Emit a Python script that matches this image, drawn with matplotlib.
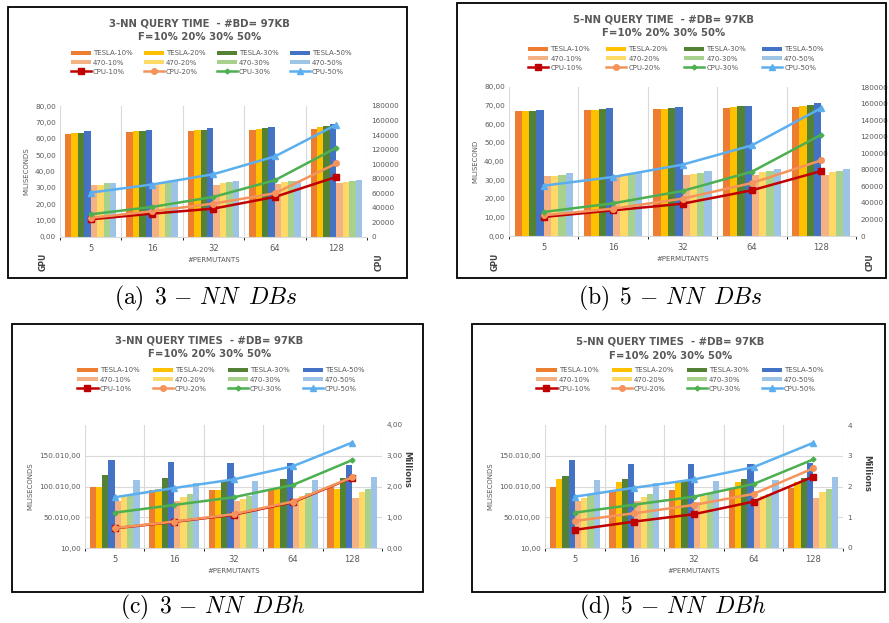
import numpy as np
import matplotlib
matplotlib.use("Agg")
import matplotlib.pyplot as plt
from matplotlib.patches import Rectangle
from matplotlib.ticker import FixedLocator, FuncFormatter

plt.rcParams['mathtext.fontset'] = 'cm'
plt.rcParams['font.family'] = 'DejaVu Sans'

OUTPUT_IMG = "out.png"
W, H = 889, 623

categories = ['5', '16', '32', '64', '128']
levels = ['10%', '20%', '30%', '50%']

# (a) 3-NN DBs  -- GPU ms (left) / CPU (right)
a_tesla = [[63.1, 64.3, 65.0, 65.5, 66.0],
           [63.7, 65.0, 65.5, 65.7, 67.0],
           [63.7, 65.0, 65.5, 66.3, 67.5],
           [64.9, 65.5, 66.5, 67.3, 68.8]]
a_470 = [[31.6, 31.8, 31.8, 32.5, 33.0],
         [32.0, 33.0, 33.0, 33.5, 33.8],
         [32.7, 33.5, 33.5, 34.0, 34.2],
         [33.0, 34.5, 34.0, 34.5, 35.0]]
a_cpu = [[24300, 32100, 39000, 55100, 82600],
         [26200, 35400, 45900, 60100, 101000],
         [31200, 41300, 55100, 78000, 122600],
         [61000, 72100, 86300, 110700, 154300]]

# (b) 5-NN DBs
b_tesla = [[67.0, 67.5, 68.0, 68.6, 69.5],
           [67.0, 67.5, 68.2, 69.3, 69.8],
           [67.0, 68.0, 68.7, 69.8, 70.3],
           [67.5, 68.7, 69.3, 69.8, 71.3]]
b_470 = [[32.2, 32.5, 32.8, 33.0, 33.0],
         [32.2, 33.5, 33.3, 34.3, 34.3],
         [32.5, 34.0, 34.0, 34.8, 34.8],
         [34.0, 34.5, 34.8, 35.8, 35.8]]
b_cpu = [[23000, 31000, 39000, 55200, 78500],
         [25000, 33000, 45100, 64000, 91400],
         [29000, 39500, 54400, 77700, 122400],
         [60800, 71300, 86200, 109500, 154600]]

# (c) 3-NN DBh  -- right axis in millions
c_tesla = [[100000, 94300, 93800, 95400, 98700],
           [100000, 95400, 93800, 96000, 96000],
           [118600, 113200, 110500, 111600, 113200],
           [143400, 139100, 137500, 137500, 134800]]
c_470 = [[77100, 76500, 76000, 78200, 80900],
         [82500, 83500, 80300, 84600, 91600],
         [86300, 87900, 84600, 88900, 96000],
         [110500, 105100, 108900, 110500, 114800]]
c_cpu = [[0.64, 0.85, 1.08, 1.49, 2.29],
         [0.65, 0.86, 1.10, 1.51, 2.30],
         [1.15, 1.40, 1.65, 2.05, 2.86],
         [1.65, 1.95, 2.23, 2.66, 3.43]]

# (d) 5-NN DBh
d_tesla = [[100000, 94300, 93800, 95400, 98100],
           [113000, 107300, 109400, 107300, 107800],
           [117500, 111600, 110500, 111600, 113200],
           [143400, 137000, 137000, 137000, 138500]]
d_470 = [[77100, 76500, 75500, 78200, 81900],
         [82000, 83000, 84600, 84600, 91600],
         [86300, 87900, 87900, 87900, 96000],
         [110500, 105600, 108900, 110000, 114800]]
d_cpu = [[0.59, 0.86, 1.10, 1.51, 2.32],
         [0.88, 1.13, 1.40, 1.76, 2.59],
         [1.15, 1.41, 1.67, 2.08, 2.88],
         [1.67, 1.96, 2.23, 2.63, 3.42]]

TESLA_COLORS = ['#ED7D31', '#FFC000', '#548235', '#4472C4']
G470_COLORS = ['#F4B183', '#FFD966', '#A9D18E', '#9DC3E6']
CPU_COLORS = ['#C00000', '#F4945C', '#4CAF50', '#5BAFEF']
CPU_MARKERS = ['s', 'o', 'D', '^']
CPU_MSIZE = [5, 4, 2.5, 4]
TXT = '#595959'


def fx(x):
    return x / W


def fy(y):
    return 1 - y / H


def euro(v, dec=2):
    s = f"{v:,.{dec}f}"
    return s.replace(',', '#').replace('.', ',').replace('#', '.')


def draw_panel(fig, frame, plot, title, tesla, g470, cpu, ylabel,
               left_lim, left_ticks, left_fmt, right_lim, right_ticks, right_fmt,
               legend_anchor, colspace, caption, caption_xy, gpu_cpu=None,
               millions=None):
    x0, y0, x1, y1 = frame
    fig.patches.append(Rectangle((fx(x0), fy(y1)), fx(x1 - x0), (y1 - y0) / H,
                                 transform=fig.transFigure, fill=False,
                                 edgecolor='black', linewidth=1.3))
    px0, py0, px1, py1 = plot
    ax = fig.add_axes([fx(px0), fy(py1), fx(px1 - px0), (py1 - py0) / H])
    ax2 = ax.twinx()

    x = np.arange(len(categories))
    w = 0.105
    handles = {}
    for i in range(4):
        handles[('T', i)] = ax.bar(x + (i - 3.5) * w, tesla[i], w, color=TESLA_COLORS[i],
                                   label='TESLA-' + levels[i], zorder=2)
    for i in range(4):
        handles[('G', i)] = ax.bar(x + (i + 0.5) * w, g470[i], w, color=G470_COLORS[i],
                                   label='470-' + levels[i], zorder=2)
    for i in range(4):
        handles[('C', i)], = ax2.plot(x, cpu[i], color=CPU_COLORS[i], lw=1.8,
                                      marker=CPU_MARKERS[i], ms=CPU_MSIZE[i],
                                      label='CPU-' + levels[i])

    ax.set_xlim(-0.5, len(categories) - 0.5)
    ax.set_xticks(x)
    ax.set_xticklabels(categories)
    ax.xaxis.set_minor_locator(FixedLocator(np.arange(-0.5, len(categories), 1)))
    ax.grid(True, which='minor', axis='x', color='#D9D9D9', lw=0.8)
    if millions:
        ax.grid(True, which='major', axis='y', color='#D9D9D9', lw=0.8)
    ax.set_axisbelow(True)

    ax.set_ylim(*left_lim)
    ax.set_yticks(left_ticks)
    ax.yaxis.set_major_formatter(FuncFormatter(left_fmt))
    ax2.set_ylim(*right_lim)
    ax2.set_yticks(right_ticks)
    ax2.yaxis.set_major_formatter(FuncFormatter(right_fmt))

    for a in (ax, ax2):
        for s in a.spines.values():
            s.set_visible(False)
        a.tick_params(length=0, labelsize=5.2, colors=TXT, pad=3)
    ax.spines['bottom'].set_visible(True)
    ax.spines['bottom'].set_color('#D9D9D9')
    ax.tick_params(axis='x', labelsize=6, pad=5)

    ax.set_ylabel(ylabel, fontsize=5, color=TXT, labelpad=4)
    ax.set_xlabel('#PERMUTANTS', fontsize=5, color=TXT, labelpad=3)

    if millions:
        fig.text(fx(millions[0]), fy(millions[1]), 'Millions', rotation=270,
                 ha='center', va='center', fontsize=6, color='#404040',
                 fontweight='bold')

    tx = (x0 + x1) / 2 - 8
    fig.text(fx(tx), fy(title[2]), title[0], ha='center', va='center',
             fontsize=7.3, fontweight='bold', color=TXT)
    fig.text(fx(tx), fy(title[2] + 14), title[1], ha='center', va='center',
             fontsize=7.3, fontweight='bold', color=TXT)

    order = []
    for i in range(4):
        order += [handles[('T', i)], handles[('G', i)], handles[('C', i)]]
    fig.legend(handles=order, loc='upper center',
               bbox_to_anchor=(fx(legend_anchor[0]), fy(legend_anchor[1])),
               ncol=4, frameon=False, fontsize=5, labelcolor=TXT,
               handlelength=2.9, handleheight=0.6, handletextpad=0.3,
               columnspacing=colspace, labelspacing=0.45, borderpad=0)

    if gpu_cpu:
        gx0, gx1, gy = gpu_cpu
        fig.text(fx(gx0), fy(gy), 'GPU', rotation=90, ha='center', va='center',
                 fontsize=5.5, fontweight='bold', color='#404040')
        fig.text(fx(gx1), fy(gy), 'CPU', rotation=90, ha='center', va='center',
                 fontsize=5.5, fontweight='bold', color='#404040')

    fig.text(fx(caption_xy[0]), fy(caption_xy[1]), caption, ha='center',
             va='center', fontsize=17)


def run():
    fig = plt.figure(figsize=(W / 100, H / 100), dpi=100)

    fmt2 = lambda v, p: euro(v)
    fmt_int = lambda v, p: f"{int(round(v))}"
    fmt_m2 = lambda v, p: euro(v)
    fmt_m0 = lambda v, p: f"{int(round(v))}"

    draw_panel(fig, (8, 7, 407, 278), (60, 106, 367, 237),
               ('3-NN QUERY TIME  - #BD= 97KB', 'F=10% 20% 30% 50%', 23),
               a_tesla, a_470, a_cpu, 'MILISECONDS',
               (0, 80), np.arange(0, 81, 10), fmt2,
               (0, 180000), np.arange(0, 180001, 20000), fmt_int,
               (211, 47), 1.6, r'$\mathrm{(a)}\ \,3\,-\,NN\ \,DBs$', (206, 298),
               gpu_cpu=(43, 379, 262))

    draw_panel(fig, (457, 3, 886, 278), (509, 87, 856, 236),
               ('5-NN QUERY TIME  - #DB= 97KB', 'F=10% 20% 30% 50%', 19),
               b_tesla, b_470, b_cpu, 'MILISECOND',
               (0, 80), np.arange(0, 81, 10), fmt2,
               (0, 180000), np.arange(0, 180001, 20000), fmt_int,
               (676, 43), 2.3, r'$\mathrm{(b)}\ \,5\,-\,NN\ \,DBs$', (670, 298),
               gpu_cpu=(495, 870, 262))

    lt = [10, 50010, 100010, 150010]
    draw_panel(fig, (12, 324, 423, 592), (85, 425, 382, 548),
               ('3-NN QUERY TIMES  - #DB= 97KB', 'F=10% 20% 30% 50%', 340),
               c_tesla, c_470, c_cpu, 'MILISECONDS',
               (10, 200010), lt, fmt2,
               (0, 4), np.arange(0, 5, 1), fmt_m2,
               (221, 364), 1.9, r'$\mathrm{(c)}\ \,3\,-\,NN\ \,DBh$', (213, 607),
               millions=(407, 469))

    draw_panel(fig, (472, 324, 885, 592), (545, 425, 843, 548),
               ('5-NN QUERY TIMES  - #DB= 97KB', 'F=10% 20% 30% 50%', 342),
               d_tesla, d_470, d_cpu, 'MILISECONDS',
               (10, 200010), lt, fmt2,
               (0, 4), np.arange(0, 5, 1), fmt_m0,
               (680, 364), 1.9, r'$\mathrm{(d)}\ \,5\,-\,NN\ \,DBh$', (673, 607),
               millions=(867, 473))

    fig.savefig(OUTPUT_IMG, dpi=100)


if __name__ == "__main__":
    run()
